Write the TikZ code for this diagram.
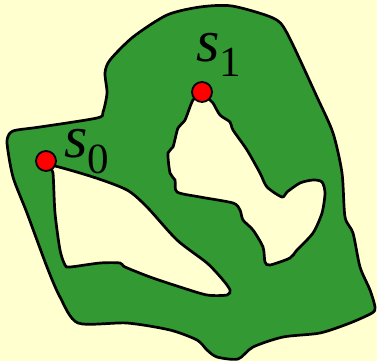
\documentclass[tikz,border=0pt]{standalone}
\usepackage{fontspec}
\setmainfont{Liberation Serif}
\definecolor{paper}{RGB}{255,255,208}
\definecolor{land}{RGB}{51,153,51}
\begin{document}
\begin{tikzpicture}[x=1pt, y=-1pt,
    dot/.style={draw, circle, fill=red, line width=1.8pt, minimum size=20pt, inner sep=0pt},
    lbl/.style={anchor=base west, inner sep=0pt, font=\fontsize{60}{60}\selectfont\itshape}]
    \fill[paper] (0,0) rectangle (377,361);
    \useasboundingbox (0,0) rectangle (377,361);

    % region with two holes
    \filldraw[land, draw=black, line width=2.7pt, even odd rule]
        plot[smooth cycle, tension=0.45] coordinates {
            (232,6) (273,18) (287,33) (317,97) (333,133) (342,173) (345,217)
            (353,233) (360,267) (370,290) (375,307) (372,313) (350,323) (320,333)
            (283,337) (253,347) (238,359) (217,357) (207,350) (197,340) (170,330)
            (127,323) (78,323) (60,297) (47,267) (27,213) (13,177) (7,143)
            (10,133) (17,130) (40,127) (97,118) (103,112) (107,93) (105,73)
            (110,60) (133,37) (167,15) (200,7)}
        plot[smooth cycle, tension=0.45] coordinates {
            (50,165) (93,177) (127,190) (147,207) (177,240) (207,263) (223,280)
            (230,290) (227,295) (207,295) (180,287) (150,277) (125,267) (120,263)
            (100,263) (70,267) (65,265) (60,250) (55,213) (53,173)}
        plot[smooth cycle, tension=0.45] coordinates {
            (202,95) (193,100) (185,120) (178,128) (173,147) (168,153) (170,173)
            (175,180) (177,192) (200,197) (233,203) (240,210) (243,220) (253,230)
            (263,247) (265,262) (270,265) (290,258) (297,250) (313,233) (322,213)
            (325,193) (322,182) (313,180) (300,183) (287,192) (282,197) (267,187)
            (260,173) (247,150) (233,130) (230,122) (220,115) (213,103) (210,100)};

    \node[dot] (s0) at (46,161) {};
    \node[dot] (s1) at (202,92) {};

    \node[lbl] (t0) at (64,157) {s\raisebox{-16pt}{\fontsize{43}{43}\selectfont\upshape 0}};
    \node[lbl] (t1) at (196,62) {s\raisebox{-15pt}{\fontsize{43}{43}\selectfont\upshape 1}};
\end{tikzpicture}
\end{document}
